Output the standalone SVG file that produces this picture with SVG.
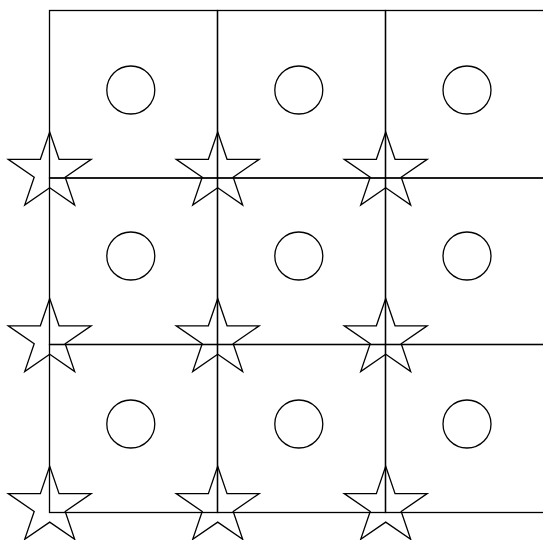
<svg xmlns="http://www.w3.org/2000/svg" xmlns:xlink="http://www.w3.org/1999/xlink" width="543" height="540" viewBox="0 0 543 540">
  <style>
    .cell { fill: none; stroke: #000; stroke-width: 1.3; }
    .dot { fill: none; stroke: #000; stroke-width: 1.3; }
    .star { fill: none; stroke: #000; stroke-width: 1.3; stroke-linejoin: miter; }
  </style>
  <defs>
    <polygon id="star" class="star" points="0,-46 9.35,-18.7 41.5,-18.7 15.5,-0.8 25,27 0,9.8 -25,27 -15.5,-0.8 -41.5,-18.7 -9.35,-18.7"/>
  </defs>
  <rect width="543" height="540" fill="#fff"/>
  <g id="cell-1-1"><rect class="cell" x="49.5" y="10.5" width="168" height="167.5"/><circle class="dot" cx="130.8" cy="90" r="24"/><use xlink:href="#star" href="#star" x="49.7" y="178"/></g>
  <g id="cell-1-2"><rect class="cell" x="217.5" y="10.5" width="168" height="167.5"/><circle class="dot" cx="298.8" cy="90" r="24"/><use xlink:href="#star" href="#star" x="217.7" y="178"/></g>
  <g id="cell-1-3"><rect class="cell" x="385.5" y="10.5" width="168" height="167.5"/><circle class="dot" cx="467" cy="90" r="24"/><use xlink:href="#star" href="#star" x="385.7" y="178"/></g>
  <g id="cell-2-1"><rect class="cell" x="49.5" y="178" width="168" height="166.5"/><circle class="dot" cx="130.8" cy="256" r="24"/><use xlink:href="#star" href="#star" x="49.7" y="344.5"/></g>
  <g id="cell-2-2"><rect class="cell" x="217.5" y="178" width="168" height="166.5"/><circle class="dot" cx="298.8" cy="256" r="24"/><use xlink:href="#star" href="#star" x="217.7" y="344.5"/></g>
  <g id="cell-2-3"><rect class="cell" x="385.5" y="178" width="168" height="166.5"/><circle class="dot" cx="467" cy="256" r="24"/><use xlink:href="#star" href="#star" x="385.7" y="344.5"/></g>
  <g id="cell-3-1"><rect class="cell" x="49.5" y="344.5" width="168" height="168"/><circle class="dot" cx="130.8" cy="424" r="24"/><use xlink:href="#star" href="#star" x="49.7" y="512.3"/></g>
  <g id="cell-3-2"><rect class="cell" x="217.5" y="344.5" width="168" height="168"/><circle class="dot" cx="298.8" cy="424" r="24"/><use xlink:href="#star" href="#star" x="217.7" y="512.3"/></g>
  <g id="cell-3-3"><rect class="cell" x="385.5" y="344.5" width="168" height="168"/><circle class="dot" cx="467" cy="424" r="24"/><use xlink:href="#star" href="#star" x="385.7" y="512.3"/></g>
  <g id="connectors"/>
</svg>
